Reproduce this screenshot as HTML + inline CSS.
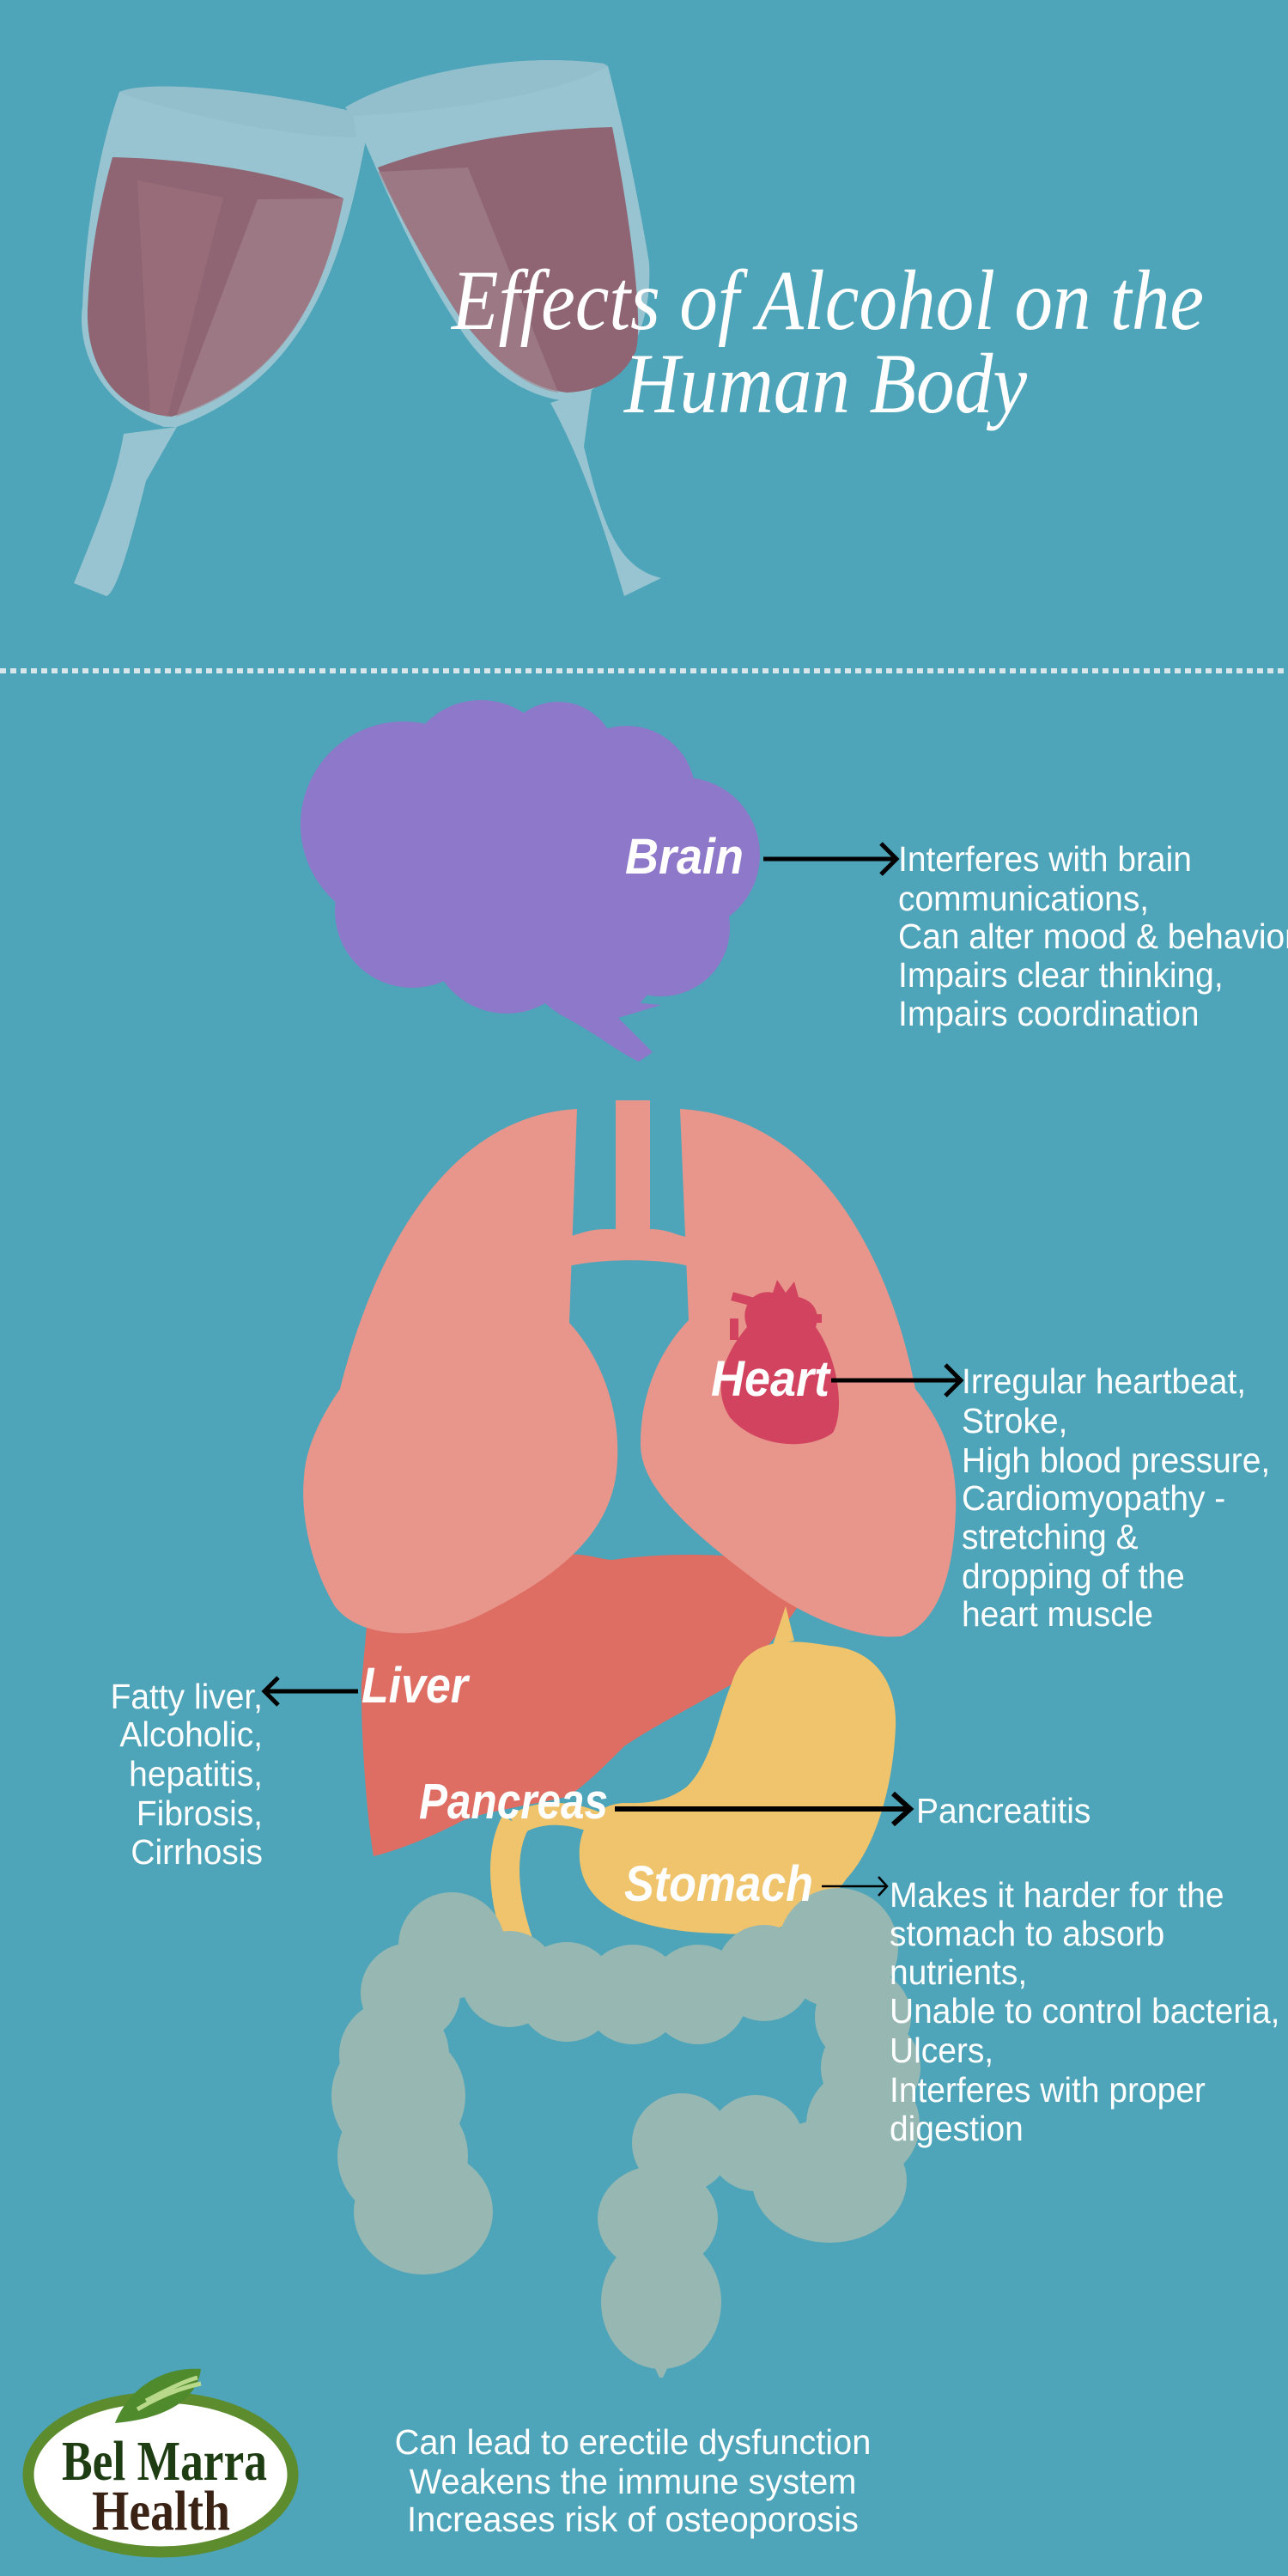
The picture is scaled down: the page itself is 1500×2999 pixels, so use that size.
<!DOCTYPE html>
<html><head><meta charset="utf-8"><style>
html,body{margin:0;padding:0;background:#4ea4b9;}
svg{display:block}
.t{font-family:"Liberation Sans Narrow","Liberation Sans",sans-serif;font-size:41px;fill:#fff;}
.lb{font-family:"Liberation Sans",sans-serif;font-weight:bold;font-style:italic;font-size:58px;fill:#fff;}
.ti{font-family:"Liberation Serif",serif;font-style:italic;font-size:100px;fill:#fff;}
</style></head><body>
<svg width="1500" height="2999" viewBox="0 0 1500 2999" xmlns="http://www.w3.org/2000/svg">
<rect width="1500" height="2999" fill="#4ea4b9"/>
<!-- glasses -->
<g>
<path d="M139,107 C180,90 330,110 411,130 L426,163 C400,300 360,440 206,497 L191,497 C110,470 90,400 96,357 C100,250 120,160 139,107 Z" fill="#97c4d0"/>
<path d="M144,505 L206,497 L170,560 C150,640 135,690 124,694 L86,679 C110,620 135,560 144,505 Z" fill="#97c4d0"/>
<path d="M131,183 C220,185 330,200 400,231 C380,330 340,440 200,485 C130,480 100,420 102,360 C105,290 118,230 131,183 Z" fill="#8f6573"/>
<path d="M160,210 L260,230 L195,485 L175,480 Z" fill="#9a6f7b" opacity="0.8"/>
<path d="M300,232 L400,231 C380,330 340,440 205,485 Z" fill="#a38690" opacity="0.6"/>
<path d="M139,107 C180,90 330,110 411,130 L415,160 C330,160 200,130 145,110 Z" fill="#93bfcc"/>
<path d="M402,125 C470,85 600,60 703,74 L708,77 C740,200 760,330 756,306 C760,380 730,430 689,454 L660,467 C600,460 560,420 536,383 C480,300 440,200 411,133 Z" fill="#97c4d0"/>
<path d="M641,469 L689,454 L680,520 C700,600 715,660 770,673 L727,694 C705,620 680,540 641,469 Z" fill="#97c4d0"/>
<path d="M440,195 C520,165 620,150 713,148 C735,260 750,380 740,410 C725,440 700,455 660,457 C600,450 560,400 536,370 C490,300 460,240 440,195 Z" fill="#8f6573"/>
<path d="M440,200 L545,195 L650,457 C600,450 560,400 536,370 C490,300 460,240 440,200 Z" fill="#a38690" opacity="0.6"/>
<path d="M402,125 C470,85 600,60 703,74 L708,77 C650,110 520,130 410,135 Z" fill="#93bfcc"/>
</g>
<text class="ti" x="526" y="383" textLength="876" lengthAdjust="spacingAndGlyphs">Effects of Alcohol on the</text>
<text class="ti" x="727" y="480" textLength="469" lengthAdjust="spacingAndGlyphs">Human Body</text>
<line x1="0" y1="781" x2="1500" y2="781" stroke="#d6e6ea" stroke-width="6" stroke-dasharray="7,5"/>
<!-- brain -->
<g fill="#8e78c9">
<circle cx="470" cy="960" r="120"/><circle cx="560" cy="905" r="90"/><circle cx="650" cy="885" r="68"/>
<circle cx="730" cy="925" r="80"/><circle cx="795" cy="995" r="90"/><circle cx="770" cy="1080" r="80"/>
<circle cx="690" cy="1110" r="80"/><circle cx="590" cy="1090" r="90"/><circle cx="480" cy="1060" r="90"/>
<circle cx="620" cy="1000" r="130"/>
<path d="M660,1160 L770,1170 L720,1185 L760,1225 L744,1236 C720,1225 690,1200 650,1180 Z"/>
</g>
<text class="lb" x="728" y="1017" textLength="138" lengthAdjust="spacingAndGlyphs">Brain</text>
<line x1="889" y1="1000" x2="1040" y2="1000" stroke="#000" stroke-width="5"/>
<polyline points="1026,982 1044,1000 1026,1018" fill="none" stroke="#000" stroke-width="5"/>
<text class="t" transform="translate(1046,1014) scale(0.95,1)">Interferes with brain</text>
<text class="t" transform="translate(1046,1060) scale(0.95,1)">communications,</text>
<text class="t" transform="translate(1046,1104) scale(0.95,1)">Can alter mood &amp; behavior,</text>
<text class="t" transform="translate(1046,1149) scale(0.95,1)">Impairs clear thinking,</text>
<text class="t" transform="translate(1046,1194) scale(0.95,1)">Impairs coordination</text>
<!-- liver -->
<path d="M430,1860 C440,1830 520,1810 620,1815 C680,1800 700,1820 720,1815 C800,1805 900,1810 935,1830 L928,1872 C910,1900 880,1930 866,1953 C820,1980 760,2010 727,2033 C700,2060 680,2080 660,2092 C600,2105 560,2110 536,2121 C500,2140 460,2155 435,2161 C425,2100 420,2000 421,1960 Z" fill="#de6e64"/>
<!-- stomach -->
<path d="M600,2122 C580,2160 585,2220 615,2290" fill="none" stroke="#f0c46c" stroke-width="34"/>
<path d="M600,2125 C630,2105 670,2110 700,2125" fill="none" stroke="#f0c46c" stroke-width="26"/>
<path d="M900,1915 L915,1870 L925,1910 Z" fill="#f0c46c"/>
<path d="M852,1960 C870,1900 930,1910 966,1916 C1020,1920 1045,1960 1043,2011 C1040,2080 1020,2150 986,2187 C950,2240 890,2255 842,2251 C760,2250 680,2230 675,2165 C672,2120 700,2100 727,2099 C760,2100 780,2095 800,2080 C830,2050 835,2000 852,1960 Z" fill="#f0c46c"/>
<!-- lungs -->
<g fill="#e8968b">
<path d="M672,1291 L663,1540 C700,1580 722,1640 719,1700 C716,1790 640,1840 560,1880 C500,1910 420,1910 390,1870 C360,1820 350,1760 354,1720 C356,1680 380,1640 396,1617 C430,1480 510,1300 672,1291 Z"/>
<path d="M792,1291 C960,1300 1040,1480 1066,1617 C1100,1660 1115,1700 1113,1760 C1110,1840 1090,1890 1050,1905 C1000,1910 930,1880 880,1840 C800,1780 745,1730 746,1680 C746,1620 770,1570 802,1537 L792,1291 Z"/>
<rect x="717" y="1281" width="40" height="160"/>
<path d="M663,1440 C690,1430 700,1431 717,1431 L757,1431 C780,1431 790,1440 802,1440 L802,1474 C770,1465 700,1465 663,1474 Z"/>
</g>
<!-- heart -->
<g fill="#d1435f">
<path d="M870,1545 C860,1520 880,1500 900,1505 L905,1490 L915,1505 L925,1492 L930,1510 C950,1515 955,1530 950,1545 C975,1580 985,1640 970,1668 C940,1690 880,1685 850,1650 C830,1620 840,1580 870,1545 Z"/>
<rect x="852" y="1508" width="30" height="10" transform="rotate(15 867 1513)"/>
<rect x="850" y="1535" width="10" height="25"/>
<rect x="935" y="1530" width="22" height="10"/>
</g>
<text class="lb" x="828" y="1625" textLength="138" lengthAdjust="spacingAndGlyphs">Heart</text>
<line x1="968" y1="1607" x2="1115" y2="1607" stroke="#000" stroke-width="5"/>
<polyline points="1101,1589 1119,1607 1101,1625" fill="none" stroke="#000" stroke-width="5"/>
<text class="t" transform="translate(1120,1622) scale(0.95,1)">Irregular heartbeat,</text>
<text class="t" transform="translate(1120,1668) scale(0.95,1)">Stroke,</text>
<text class="t" transform="translate(1120,1714) scale(0.95,1)">High blood pressure,</text>
<text class="t" transform="translate(1120,1758) scale(0.95,1)">Cardiomyopathy -</text>
<text class="t" transform="translate(1120,1803) scale(0.95,1)">stretching &amp;</text>
<text class="t" transform="translate(1120,1849) scale(0.95,1)">dropping of the</text>
<text class="t" transform="translate(1120,1893) scale(0.95,1)">heart muscle</text>
<!-- intestine -->
<g fill="#97b8b2">
<circle cx="526" cy="2265" r="62"/><circle cx="478" cy="2320" r="58"/><circle cx="459" cy="2392" r="64"/>
<circle cx="464" cy="2440" r="78"/><circle cx="469" cy="2510" r="76"/><ellipse cx="493" cy="2575" rx="81" ry="73"/>
<circle cx="593" cy="2304" r="56"/><circle cx="660" cy="2319" r="58"/><circle cx="737" cy="2322" r="58"/>
<circle cx="813" cy="2322" r="58"/><circle cx="890" cy="2297" r="56"/><circle cx="976" cy="2268" r="70"/>
<circle cx="1005" cy="2348" r="56"/><circle cx="1014" cy="2407" r="58"/><circle cx="1005" cy="2473" r="66"/>
<ellipse cx="966" cy="2539" rx="90" ry="72"/><circle cx="880" cy="2495" r="56"/><circle cx="794" cy="2495" r="58"/>
<ellipse cx="766" cy="2583" rx="70" ry="62"/><ellipse cx="770" cy="2680" rx="70" ry="78"/>
<path d="M755,2740 L785,2740 L772,2768 L768,2768 Z"/>
</g>
<text class="lb" x="421" y="1982" textLength="124" lengthAdjust="spacingAndGlyphs">Liver</text>
<line x1="417" y1="1969" x2="310" y2="1969" stroke="#000" stroke-width="5"/>
<polyline points="324,1953 308,1969 324,1985" fill="none" stroke="#000" stroke-width="5"/>
<g text-anchor="end">
<text class="t" transform="translate(306,1989) scale(0.95,1)">Fatty liver,</text>
<text class="t" transform="translate(306,2033) scale(0.95,1)">Alcoholic,</text>
<text class="t" transform="translate(306,2079) scale(0.95,1)">hepatitis,</text>
<text class="t" transform="translate(306,2125) scale(0.95,1)">Fibrosis,</text>
<text class="t" transform="translate(306,2170) scale(0.95,1)">Cirrhosis</text>
</g>
<text class="lb" x="488" y="2117" textLength="220" lengthAdjust="spacingAndGlyphs">Pancreas</text>
<line x1="716" y1="2106" x2="1058" y2="2106" stroke="#000" stroke-width="6"/>
<polyline points="1040,2088 1060,2106 1040,2124" fill="none" stroke="#000" stroke-width="6"/>
<text class="t" transform="translate(1067,2122) scale(0.95,1)">Pancreatitis</text>
<text class="lb" x="727" y="2213" textLength="220" lengthAdjust="spacingAndGlyphs">Stomach</text>
<line x1="957" y1="2196" x2="1031" y2="2196" stroke="#000" stroke-width="2.5"/>
<polyline points="1023,2185 1033,2196 1023,2207" fill="none" stroke="#000" stroke-width="2.5"/>
<text class="t" transform="translate(1036,2220) scale(0.95,1)">Makes it harder for the</text>
<text class="t" transform="translate(1036,2265) scale(0.95,1)">stomach to absorb</text>
<text class="t" transform="translate(1036,2310) scale(0.95,1)">nutrients,</text>
<text class="t" transform="translate(1036,2355) scale(0.95,1)">Unable to control bacteria,</text>
<text class="t" transform="translate(1036,2401) scale(0.95,1)">Ulcers,</text>
<text class="t" transform="translate(1036,2447) scale(0.95,1)">Interferes with proper</text>
<text class="t" transform="translate(1036,2492) scale(0.95,1)">digestion</text>
<g text-anchor="middle">
<text class="t" transform="translate(737,2857) scale(0.97,1)">Can lead to erectile dysfunction</text>
<text class="t" transform="translate(737,2903) scale(0.97,1)">Weakens the immune system</text>
<text class="t" transform="translate(737,2947) scale(0.97,1)">Increases risk of osteoporosis</text>
</g>
<!-- logo -->
<ellipse cx="187" cy="2881" rx="154" ry="90" fill="#fff" stroke="#5d8c2e" stroke-width="13"/>
<path d="M134,2821 C150,2780 190,2755 234,2758 C230,2790 200,2815 134,2821 Z" fill="#4f8a2c"/>
<path d="M160,2805 C185,2790 210,2780 234,2775 M170,2795 C195,2782 215,2772 230,2768" stroke="#b9d98a" stroke-width="5" fill="none"/>
<text x="72" y="2887" font-family="Liberation Serif,serif" font-weight="bold" font-size="66" fill="#1f3d12" textLength="239" lengthAdjust="spacingAndGlyphs">Bel Marra</text>
<text x="107" y="2945" font-family="Liberation Serif,serif" font-weight="bold" font-size="66" fill="#3a2314" textLength="161" lengthAdjust="spacingAndGlyphs">Health</text>
</svg>
</body></html>
